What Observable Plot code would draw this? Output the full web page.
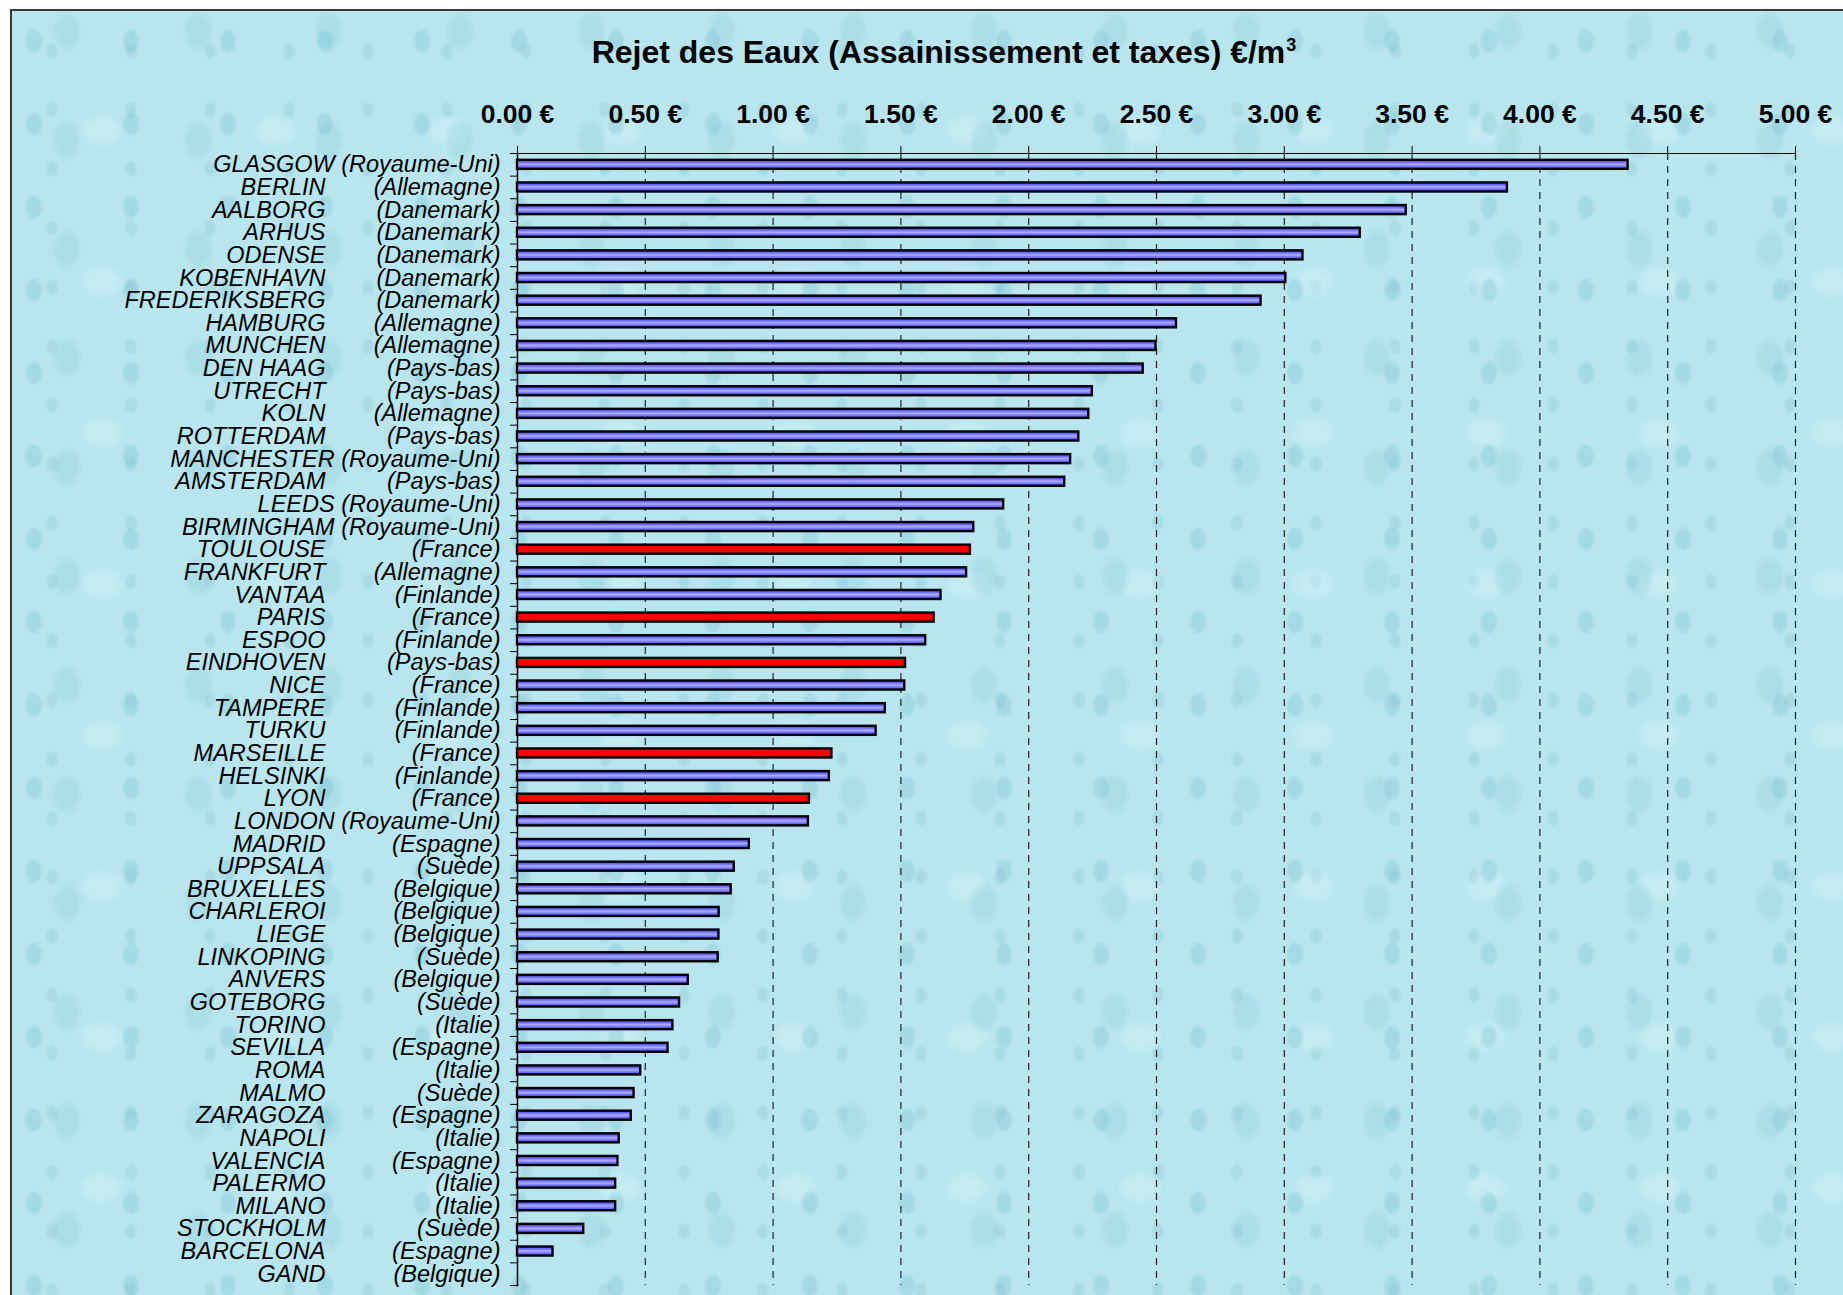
<!DOCTYPE html>
<html>
<head>
<meta charset="utf-8">
<script src="https://cdn.jsdelivr.net/npm/d3@7"></script>
<script src="https://cdn.jsdelivr.net/npm/@observablehq/plot@0.6"></script>
<style>
  html, body { margin: 0; padding: 0; background: #ffffff; }
  #wrap { position: relative; width: 1843px; height: 1295px; overflow: hidden; background: #fff; }
  #panel {
    position: absolute; left: 10px; top: 9px; width: 1860px; height: 1320px;
    border: 2px solid #3a3a3a; box-sizing: border-box;
    background-color: #b9e6ee;
    background-image:
      radial-gradient(ellipse 12px 17px at 22px 30px, rgba(120,192,208,.34) 0 50%, transparent 80%),
      radial-gradient(ellipse 6px 8px at 70px 62px, rgba(245,255,255,.45) 0 45%, transparent 80%),
      radial-gradient(ellipse 20px 28px at 55px 20px, rgba(128,196,212,.24) 0 50%, transparent 80%),
      radial-gradient(ellipse 5px 7px at 15px 70px, rgba(110,180,198,.28) 0 45%, transparent 80%),
      radial-gradient(ellipse 30px 22px at 90px 120px, rgba(225,248,250,.30) 0 40%, transparent 80%),
      radial-gradient(ellipse 9px 12px at 40px 40px, rgba(125,190,205,.26) 0 45%, transparent 80%);
    background-size: 97px 83px, 61px 71px, 131px 109px, 43px 47px, 173px 151px, 79px 59px;
  }
  #title {
    position: absolute; left: 944px; top: 36px; transform: translateX(-50%);
    font: bold 32px "Liberation Sans", Arial, sans-serif; color: #000; white-space: nowrap; line-height: 32px;
  }
  #title sup { font-size: 18px; position: relative; top: -7px; vertical-align: top; margin-left: 1px; }
  #chart { position: absolute; left: 0; top: 0; }
</style>
</head>
<body>
<div id="wrap">
  <div id="panel"></div>
  <div id="title"></div>
  <div id="chart"></div>
</div>
<script>
const cities = ["GLASGOW","BERLIN","AALBORG","ARHUS","ODENSE","KOBENHAVN","FREDERIKSBERG","HAMBURG","MUNCHEN","DEN HAAG","UTRECHT","KOLN","ROTTERDAM","MANCHESTER","AMSTERDAM","LEEDS","BIRMINGHAM","TOULOUSE","FRANKFURT","VANTAA","PARIS","ESPOO","EINDHOVEN","NICE","TAMPERE","TURKU","MARSEILLE","HELSINKI","LYON","LONDON","MADRID","UPPSALA","BRUXELLES","CHARLEROI","LIEGE","LINKOPING","ANVERS","GOTEBORG","TORINO","SEVILLA","ROMA","MALMO","ZARAGOZA","NAPOLI","VALENCIA","PALERMO","MILANO","STOCKHOLM","BARCELONA","GAND"];
const countries = ["Royaume-Uni","Allemagne","Danemark","Danemark","Danemark","Danemark","Danemark","Allemagne","Allemagne","Pays-bas","Pays-bas","Allemagne","Pays-bas","Royaume-Uni","Pays-bas","Royaume-Uni","Royaume-Uni","France","Allemagne","Finlande","France","Finlande","Pays-bas","France","Finlande","Finlande","France","Finlande","France","Royaume-Uni","Espagne","Suède","Belgique","Belgique","Belgique","Suède","Belgique","Suède","Italie","Espagne","Italie","Suède","Espagne","Italie","Espagne","Italie","Italie","Suède","Espagne","Belgique"];
const values = [4.345,3.873,3.477,3.297,3.073,3.006,2.909,2.578,2.498,2.448,2.249,2.235,2.196,2.164,2.141,1.902,1.785,1.772,1.757,1.657,1.630,1.597,1.518,1.515,1.439,1.403,1.230,1.220,1.142,1.138,0.907,0.848,0.836,0.789,0.788,0.785,0.668,0.634,0.608,0.589,0.482,0.456,0.445,0.398,0.393,0.384,0.384,0.259,0.139,0];
const highlightedRows = ["TOULOUSE","PARIS","EINDHOVEN","MARSEILLE","LYON"];
const xTicks = [0,0.5,1,1.5,2,2.5,3,3.5,4,4.5,5];
const titleText = "Rejet des Eaux (Assainissement et taxes) €/m";
const titleSup = "3";

const rows = cities.map((city, i) => ({city, country: countries[i], value: values[i], red: highlightedRows.includes(city)}));

const W = 1843, H = 1295, mTop = 153, mLeft = 517, mRight = 48, mBottom = 10;
const step = (H - mTop - mBottom) / cities.length;
const font = "'Liberation Sans', Arial, sans-serif";

const chart = Plot.plot({
  width: W, height: H,
  marginTop: mTop, marginLeft: mLeft, marginRight: mRight, marginBottom: mBottom,
  style: {background: "transparent", color: "black", fontFamily: font, overflow: "visible"},
  x: {domain: [0, 5], axis: null},
  y: {domain: cities, paddingInner: 0.6, paddingOuter: 0.3, axis: null},
  marks: [
    Plot.gridX(xTicks.slice(1), {stroke: "#222", strokeOpacity: 1, strokeWidth: 1.2, strokeDasharray: "7,6"}),
    Plot.frame({anchor: "top", stroke: "black", strokeWidth: 1}),
    Plot.frame({anchor: "left", stroke: "black", strokeWidth: 1.5}),
    Plot.axisX(xTicks, {anchor: "top", tickSize: 8, tickPadding: 23, label: null,
      tickFormat: d => d.toFixed(2) + " €", fontSize: 26.5, fontWeight: "bold", stroke: "black"}),
    Plot.axisY(cities, {anchor: "left", tickSize: 7, tickFormat: () => "", label: null, dy: -step / 2, stroke: "black"}),
    Plot.axisY([cities[cities.length - 1]], {anchor: "left", tickSize: 7, tickFormat: () => "", label: null, dy: step / 2, stroke: "black"}),
    Plot.barX(rows.filter(d => !d.red && d.value > 0), {x: "value", y: "city", fill: "url(#blueBar)", stroke: "black", strokeWidth: 2.4}),
    Plot.barX(rows.filter(d => d.red), {x: "value", y: "city", fill: "#ff0000", stroke: "black", strokeWidth: 2.4}),
    Plot.text(rows, {y: "city", text: d => d.country === "Royaume-Uni" ? "" : d.city,
      frameAnchor: "left", dx: -192, textAnchor: "end", fontSize: 23.5, fontStyle: "italic", fill: "black"}),
    Plot.text(rows, {y: "city", text: d => d.country === "Royaume-Uni" ? `${d.city} (${d.country})` : `(${d.country})`,
      frameAnchor: "left", dx: -17, textAnchor: "end", fontSize: 23.5, fontStyle: "italic", fill: "black"})
  ]
});

const defs = d3.select(chart).insert("defs", ":first-child");
const g = defs.append("linearGradient").attr("id", "blueBar").attr("x1", 0).attr("y1", 0).attr("x2", 0).attr("y2", 1);
[[0, "#3434e6"], [0.25, "#6a6aff"], [0.5, "#adadff"], [0.75, "#7070ff"], [1, "#4040ea"]]
  .forEach(([o, c]) => g.append("stop").attr("offset", o).attr("stop-color", c));

document.getElementById("chart").appendChild(chart);
const t = document.getElementById("title");
t.textContent = titleText;
const s = document.createElement("sup");
s.textContent = titleSup;
t.appendChild(s);
</script>
</body>
</html>
